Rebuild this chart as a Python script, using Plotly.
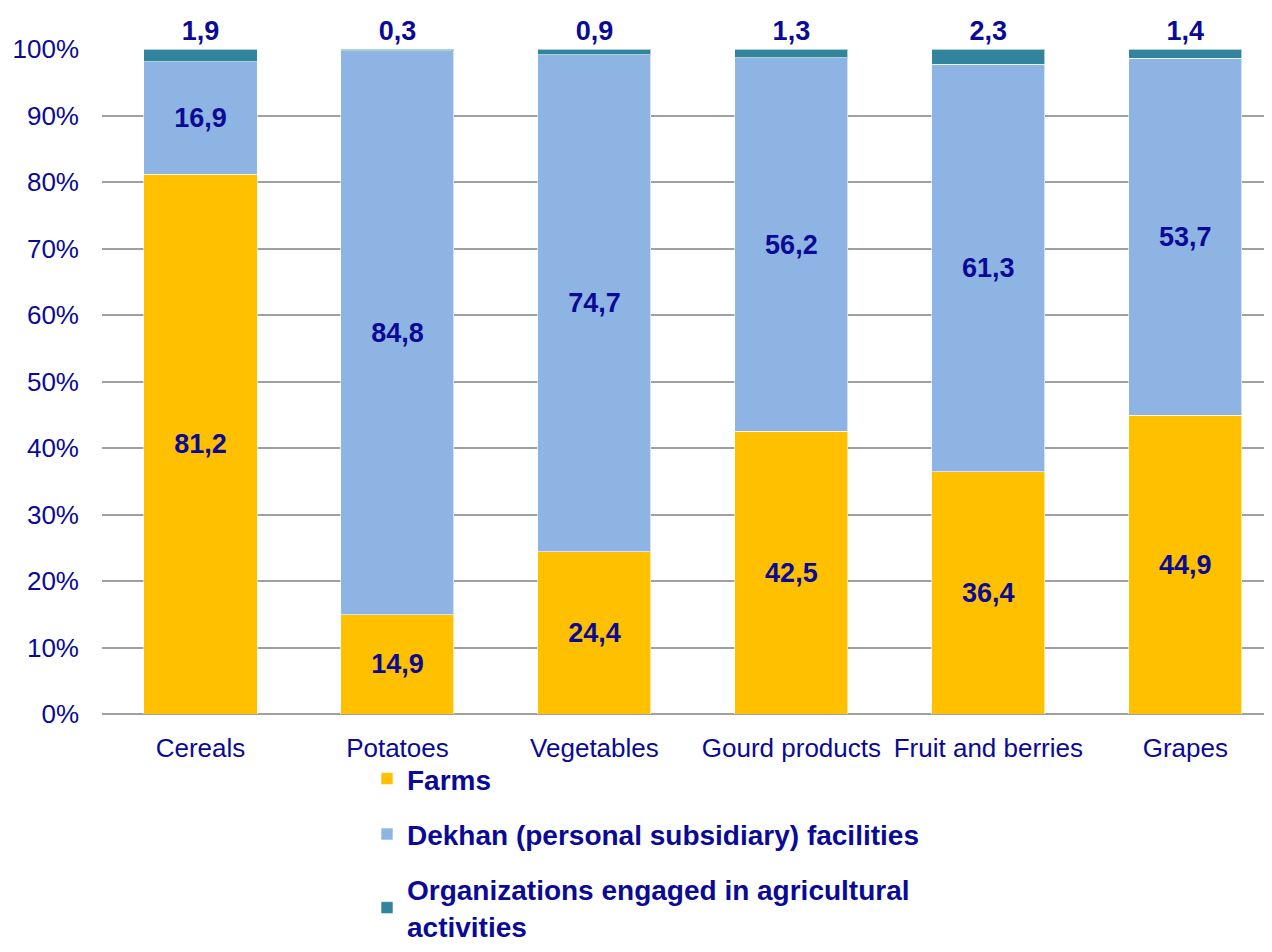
import plotly.graph_objects as go

categories = ["Cereals", "Potatoes", "Vegetables", "Gourd products", "Fruit and berries", "Grapes"]
farms = [81.2, 14.9, 24.4, 42.5, 36.4, 44.9]
dekhan = [16.9, 84.8, 74.7, 56.2, 61.3, 53.7]
organizations = [1.9, 0.3, 0.9, 1.3, 2.3, 1.4]
series_names = ["Farms", "Dekhan (personal subsidiary) facilities",
                "Organizations engaged in agricultural<br>activities"]
colors = ["#FFC000", "#8EB4E3", "#31849B"]
text_color = "#0A0A96"
font_family = "Liberation Sans, Arial, sans-serif"

fig = go.Figure()
for i, (vals, name, col) in enumerate(zip([farms, dekhan, organizations], series_names, colors)):
    fig.add_trace(go.Bar(
        x=categories, y=vals, name=name, legendgroup=f"g{i}",
        marker=dict(color=col, line=dict(color="rgba(255,255,255,0.6)", width=1)),
        texttemplate="%{y:.1f}",
        textposition="outside" if i == 2 else "inside",
        insidetextanchor="middle",
        textangle=0,
        constraintext="none",
        cliponaxis=False,
        textfont=dict(family=font_family, size=27, color=text_color, weight="bold"),
        width=0.574,
    ))

fig.update_layout(
    barmode="stack",
    width=1272, height=952,
    margin=dict(l=94, r=8, t=41, b=246, autoexpand=False),
    paper_bgcolor="white", plot_bgcolor="white",
    separators=",.",
    font=dict(family=font_family, color=text_color),
    xaxis=dict(range=[-0.5, 5.44], showgrid=False, showline=False, ticks="",
               ticklabelstandoff=16,
               tickfont=dict(size=26, color=text_color)),
    yaxis=dict(range=[0, 100], dtick=10, ticksuffix="%", showgrid=True,
               gridcolor="#A0A0A0", gridwidth=1.5, zeroline=True, zerolinecolor="#A0A0A0",
               zerolinewidth=1.5, ticks="", ticklabelstandoff=22,
               tickfont=dict(size=26, color=text_color)),
    legend=dict(x=0.2265, y=-0.06, xanchor="left", yanchor="top", orientation="v",
                traceorder="grouped", tracegroupgap=16, bgcolor="rgba(0,0,0,0)",
                font=dict(size=28, color=text_color, weight="bold", family=font_family)),
)

fig.write_html("out.html")
